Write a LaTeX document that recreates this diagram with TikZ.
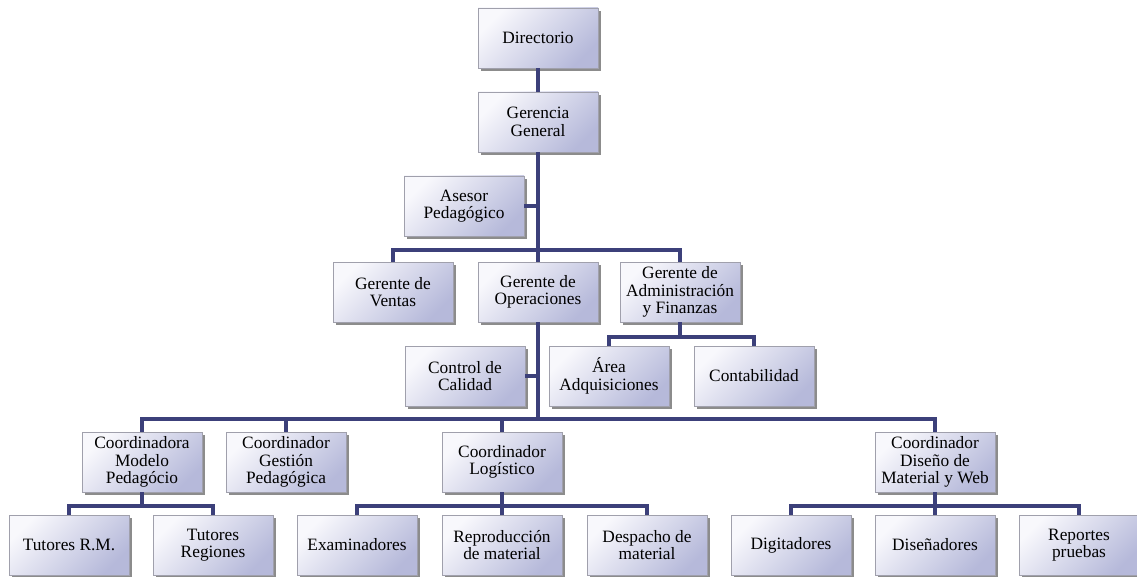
\documentclass[tikz,border=0pt]{standalone}
\usepackage{fontspec}
\setmainfont{Liberation Serif}
\usetikzlibrary{shadows}
\definecolor{L0}{RGB}{60, 64,122}
\definecolor{B0}{RGB}{160,160,172}
\definecolor{F0}{RGB}{248,248,252}
\definecolor{F1}{RGB}{182,185,218}

\tikzset{
  unit/.style={draw=B0, thin, top color=F0, bottom color=F1, shading angle=45,
    minimum width=90pt, minimum height=45pt, inner sep=1pt, align=center,
    font=\fontsize{13}{13}\selectfont,
    drop shadow={shadow xshift=2.2pt, shadow yshift=-2.2pt, fill=black, opacity=0.45}},
  link/.style={L0, line width=2.6pt}
}

\begin{document}
\begin{tikzpicture}[x=0.75pt, y=-0.75pt]

    \useasboundingbox (0,0) rectangle (1137,577);

    %% Top
    \node[unit] (dir) at (538,38)  {Directorio};
    \node[unit] (ger) at (538,122) {Gerencia\\General};
    \node[unit] (ase) at (464,206) {Asesor\\Pedagógico};

    %% Gerentes
    \node[unit] (ven) at (393,292) {Gerente de\\Ventas};
    \node[unit] (ope) at (538,292) {Gerente de\\Operaciones};
    \node[unit] (adm) at (680,292) {Gerente de\\Administración\\y Finanzas};

    \node[unit] (cal)  at (465,376) {Control de\\Calidad};
    \node[unit] (adq)  at (609,376) {Área\\Adquisiciones};
    \node[unit] (cont) at (754,376) {Contabilidad};

    %% Coordinadores
    \node[unit] (cmp) at (142,462) {Coordinadora\\Modelo\\Pedagócio};
    \node[unit] (cgp) at (286,462) {Coordinador\\Gestión\\Pedagógica};
    \node[unit] (clo) at (502,462) {Coordinador\\Logístico};
    \node[unit] (cdm) at (935,462) {Coordinador\\Diseño de\\Material y Web};

    %% Bottom row
    \node[unit] (trm)  at (69,545)   {Tutores R.M.};
    \node[unit] (treg) at (213,545)  {Tutores\\Regiones};
    \node[unit] (exa)  at (357,545)  {Examinadores};
    \node[unit] (rep)  at (502,545)  {Reproducción\\de material};
    \node[unit] (des)  at (647,545)  {Despacho de\\material};
    \node[unit] (dig)  at (791,545)  {Digitadores};
    \node[unit] (dis)  at (935,545)  {Diseñadores};
    \node[unit] (rpt)  at (1079,545) {Reportes\\pruebas};

    %% Buses
    \coordinate (b3)  at (538,250);
    \coordinate (b3a) at (680,337);
    \coordinate (b5)  at (538,419);
    \coordinate (b6a) at (142,506);
    \coordinate (b6b) at (502,506);
    \coordinate (b6c) at (935,506);

    %% Links
    \draw[link] (dir.south) -- (ger.north);
    \draw[link] (ger.south) -- (b3);
    \draw[link] (ase.east) -- (ase.east -| b3);
    \draw[link] (ven.north) |- (b3) -| (adm.north);
    \draw[link] (b3) -- (ope.north);

    \draw[link] (adm.south) -- (b3a);
    \draw[link] (adq.north) |- (b3a) -| (cont.north);

    \draw[link] (ope.south) -- (b5);
    \draw[link] (cal.east) -- (cal.east -| b5);
    \draw[link] (cmp.north) |- (b5) -| (cdm.north);
    \draw[link] (cgp.north) -- (cgp.north |- b5);
    \draw[link] (clo.north) -- (clo.north |- b5);

    \draw[link] (cmp.south) -- (b6a);
    \draw[link] (trm.north) |- (b6a) -| (treg.north);
    \draw[link] (clo.south) -- (rep.north);
    \draw[link] (exa.north) |- (b6b) -| (des.north);
    \draw[link] (cdm.south) -- (dis.north);
    \draw[link] (dig.north) |- (b6c) -| (rpt.north);

\end{tikzpicture}
\end{document}
